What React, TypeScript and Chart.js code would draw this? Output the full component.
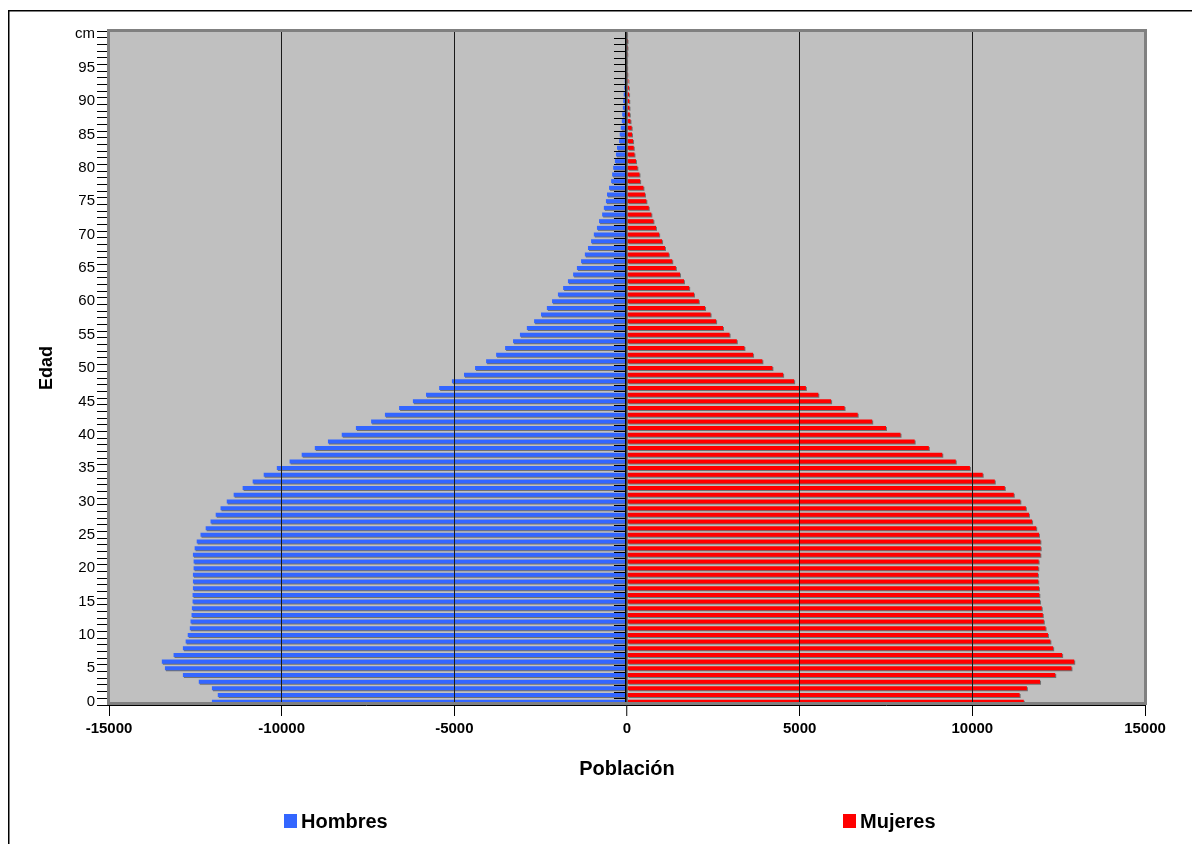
import React, { useEffect, useRef } from 'react';
import { Chart, registerables } from 'chart.js';

Chart.register(...registerables);

const FONT = '"Liberation Sans", Arial, sans-serif';

const ages: string[] = [
  '0', '1', '2', '3', '4', '5', '6', '7', '8', '9',
  '10', '11', '12', '13', '14', '15', '16', '17', '18', '19',
  '20', '21', '22', '23', '24', '25', '26', '27', '28', '29',
  '30', '31', '32', '33', '34', '35', '36', '37', '38', '39',
  '40', '41', '42', '43', '44', '45', '46', '47', '48', '49',
  '50', '51', '52', '53', '54', '55', '56', '57', '58', '59',
  '60', '61', '62', '63', '64', '65', '66', '67', '68', '69',
  '70', '71', '72', '73', '74', '75', '76', '77', '78', '79',
  '80', '81', '82', '83', '84', '85', '86', '87', '88', '89',
  '90', '91', '92', '93', '94', '95', '96', '97', '98', '99',
  'cm',
];

const hombres: number[] = [
  -12020, -11850, -12020, -12400, -12860, -13380, -13470, -13130, -12860, -12780,
  -12720, -12660, -12640, -12610, -12600, -12580, -12580, -12570, -12570, -12570,
  -12550, -12550, -12570, -12520, -12460, -12350, -12200, -12060, -11910, -11770,
  -11590, -11390, -11130, -10840, -10520, -10140, -9770, -9420, -9040, -8660,
  -8260, -7850, -7410, -7010, -6600, -6200, -5820, -5440, -5070, -4720,
  -4400, -4080, -3790, -3530, -3300, -3100, -2900, -2690, -2490, -2320,
  -2170, -2000, -1850, -1710, -1560, -1450, -1330, -1220, -1130, -1040,
  -960, -870, -810, -720, -670, -610, -580, -520, -460, -430,
  -400, -350, -320, -290, -230, -210, -180, -150, -140, -120,
  -110, -95, -80, -65, -50, -40, -30, -20, -15, -10,
  -15,
];

const mujeres: number[] = [
  11490, 11370, 11580, 11960, 12400, 12870, 12950, 12600, 12340, 12260,
  12190, 12120, 12070, 12040, 12010, 11960, 11940, 11930, 11910, 11900,
  11910, 11920, 11970, 11980, 11970, 11930, 11850, 11730, 11640, 11550,
  11390, 11200, 10940, 10650, 10300, 9930, 9520, 9130, 8740, 8330,
  7920, 7500, 7100, 6680, 6300, 5910, 5540, 5180, 4840, 4520,
  4210, 3920, 3650, 3400, 3180, 2970, 2780, 2580, 2420, 2260,
  2080, 1940, 1800, 1650, 1535, 1415, 1310, 1210, 1100, 1015,
  930, 840, 765, 705, 630, 560, 520, 475, 380, 360,
  300, 260, 215, 195, 175, 145, 135, 100, 80, 70,
  65, 60, 55, 40, 30, 25, 20, 15, 10, 8,
  20,
];

const xMin = -15000;
const xMax = 15000;
const xStep = 5000;

const seriesNames = ['Hombres', 'Mujeres'];
const seriesColors = ['#3366FF', '#FF0000'];
const xTitle = 'Población';
const yTitle = 'Edad';

const decorPlugin = {
  id: 'decor',
  beforeDraw(chart: any) {
    const { ctx, chartArea } = chart;
    ctx.save();
    ctx.fillStyle = '#C0C0C0';
    ctx.fillRect(chartArea.left, chartArea.top, chartArea.right - chartArea.left, chartArea.bottom - chartArea.top);
    ctx.restore();
  },
  beforeDatasetsDraw(chart: any) {
    const { ctx } = chart;
    ctx.save();
    ctx.shadowColor = 'rgba(70,70,70,0.65)';
    ctx.shadowOffsetX = 1;
    ctx.shadowOffsetY = 1;
    ctx.shadowBlur = 0;
  },
  afterDatasetsDraw(chart: any) {
    const { ctx, scales } = chart;
    ctx.restore();
    const x0 = scales.x.getPixelForValue(0);
    const ys = scales.y;
    const n = chart.data.labels.length;
    const step = Math.abs(ys.getPixelForValue(1) - ys.getPixelForValue(0));
    ctx.save();
    ctx.strokeStyle = '#000';
    ctx.lineWidth = 1;
    ctx.beginPath();
    for (let i = 0; i < n; i++) {
      const p = ys.getPixelForValue(i) + step / 2;
      const yy = Math.round(p) + 0.5;
      ctx.moveTo(x0 - 13, yy);
      ctx.lineTo(x0 - 2, yy);
    }
    const pTop = Math.round(ys.getPixelForValue(n - 1) - step / 2) + 0.5;
    ctx.moveTo(x0 - 13, pTop);
    ctx.lineTo(x0 - 2, pTop);
    ctx.stroke();
    ctx.beginPath();
    ctx.moveTo(Math.round(x0) - 1.5, chart.chartArea.top);
    ctx.lineTo(Math.round(x0) - 1.5, chart.chartArea.bottom);
    ctx.stroke();
    ctx.restore();
  },
  afterDraw(chart: any) {
    const { ctx, chartArea } = chart;
    ctx.save();
    // plot frame
    ctx.strokeStyle = '#808080';
    ctx.lineWidth = 3;
    ctx.strokeRect(chartArea.left - 0.5, chartArea.top - 0.5, chartArea.right - chartArea.left + 1, chartArea.bottom - chartArea.top - 1);
    ctx.strokeStyle = '#000';
    ctx.lineWidth = 1;
    ctx.beginPath();
    ctx.moveTo(chartArea.left - 2, Math.round(chartArea.bottom) + 0.5);
    ctx.lineTo(chartArea.right + 1, Math.round(chartArea.bottom) + 0.5);
    ctx.stroke();
    // outer frame
    ctx.lineWidth = 1.5;
    ctx.beginPath();
    ctx.moveTo(8.75, chart.height + 2);
    ctx.lineTo(8.75, 10.75);
    ctx.lineTo(chart.width + 2, 10.75);
    ctx.stroke();
    // legend
    const legendX = [284, 843];
    ctx.font = 'bold 20px ' + FONT;
    ctx.textBaseline = 'alphabetic';
    ctx.textAlign = 'left';
    chart.data.datasets.forEach((ds: any, i: number) => {
      ctx.fillStyle = ds.backgroundColor;
      ctx.fillRect(legendX[i], 814, 13, 14);
      ctx.fillStyle = '#000';
      ctx.fillText(ds.label, legendX[i] + 17, 828);
    });
    ctx.restore();
  },
};

export default function App() {
  const canvasRef = useRef<HTMLCanvasElement | null>(null);

  useEffect(() => {
    const canvas = canvasRef.current;
    if (!canvas) return;
    Chart.defaults.font.family = FONT;
    const chart = new Chart(canvas, {
      type: 'bar',
      data: {
        labels: ages,
        datasets: [
          {
            label: seriesNames[0],
            data: hombres,
            backgroundColor: seriesColors[0],
            borderWidth: 0,
            barPercentage: 0.6,
            categoryPercentage: 1,
            grouped: false,
          } as any,
          {
            label: seriesNames[1],
            data: mujeres,
            backgroundColor: seriesColors[1],
            borderWidth: 0,
            barPercentage: 0.6,
            categoryPercentage: 1,
            grouped: false,
          } as any,
        ],
      },
      options: {
        indexAxis: 'y',
        animation: false,
        responsive: false,
        maintainAspectRatio: false,
        layout: { padding: { top: 31, right: 47, bottom: 60, left: 0 } },
        plugins: {
          legend: { display: false },
          tooltip: { enabled: false },
        },
        scales: {
          x: {
            type: 'linear',
            min: xMin,
            max: xMax,
            ticks: {
              stepSize: xStep,
              color: '#000',
              font: { family: FONT, size: 15, weight: 'bold' },
              padding: 4,
              callback: (v: any) => String(v),
            },
            grid: {
              z: 1,
              color: (c: any) => {
                const v = c.tick ? c.tick.value : null;
                if (v === xMin || v === xMax) return 'rgba(0,0,0,0)';
                if (v === 0) return '#404040';
                return '#1a1a1a';
              },
              lineWidth: (c: any) => (c.tick && c.tick.value === 0 ? 1.5 : 1),
              tickLength: 11,
              tickColor: '#000',
              tickWidth: 1,
            },
            border: { display: false },
            title: {
              display: true,
              text: xTitle,
              color: '#000',
              font: { family: FONT, size: 20, weight: 'bold' },
              padding: { top: 0, bottom: 3 },
            },
            afterFit: (s: any) => {
              s.height = 79;
            },
          } as any,
          y: {
            type: 'category',
            reverse: true,
            offset: true,
            ticks: {
              autoSkip: false,
              color: '#000',
              font: { family: FONT, size: 15 },
              padding: 2,
              callback: (_v: any, i: number) => (i % 5 === 0 ? ages[i] : ''),
            },
            grid: {
              offset: true,
              drawOnChartArea: false,
              tickLength: 12,
              tickColor: '#000',
              tickWidth: 1,
            },
            border: { display: false },
            title: {
              display: true,
              text: yTitle,
              color: '#000',
              font: { family: FONT, size: 18, weight: 'bold' },
              padding: { top: 36, bottom: 0 },
            },
            afterFit: (s: any) => {
              s.width = 109;
            },
          } as any,
        },
      },
      plugins: [decorPlugin],
    });
    return () => chart.destroy();
  }, []);

  return (
    <div style={{ position: 'fixed', left: 0, top: 0, width: 1192, height: 844, background: '#fff' }}>
      <canvas ref={canvasRef} width={1192} height={844} style={{ width: 1192, height: 844, display: 'block' }} />
    </div>
  );
}
